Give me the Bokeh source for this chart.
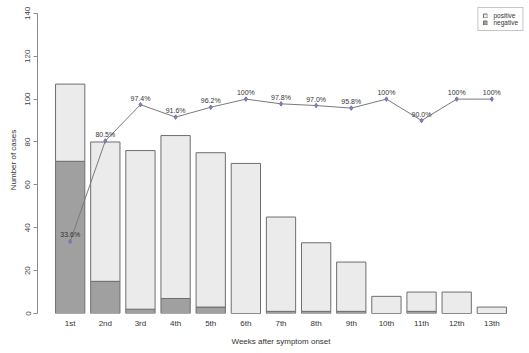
import math
from bokeh.plotting import figure
from bokeh.models import (ColumnDataSource, FactorRange, Range1d, FixedTicker,
                          Legend, LegendItem)
from bokeh.core.properties import value
from bokeh.embed import file_html
from bokeh.resources import INLINE

# ---- data ----
weeks = ["1st", "2nd", "3rd", "4th", "5th", "6th", "7th", "8th", "9th",
         "10th", "11th", "12th", "13th"]
totals = [107, 80, 76, 83, 75, 70, 45, 33, 24, 8, 10, 10, 3]
negatives = [71, 15, 2, 7, 3, 0, 1, 1, 1, 0, 1, 0, 0]
percent = [33.6, 80.5, 97.4, 91.6, 96.2, 100, 97.8, 97.0, 95.8, 100, 90.0, 100, 100]
percent_labels = ["33.6%", "80.5%", "97.4%", "91.6%", "96.2%", "100%", "97.8%",
                  "97.0%", "95.8%", "100%", "90.0%", "100%", "100%"]
y_ticks = [0, 20, 40, 60, 80, 100, 120, 140]

FONT = "Liberation Sans"

src = ColumnDataSource(dict(
    week=weeks, total=totals, neg=negatives,
    zero=[0] * len(weeks), pct=percent, lab=percent_labels,
))

p = figure(width=529, height=353, output_backend="svg", toolbar_location=None,
           x_range=FactorRange(factors=weeks, range_padding=0.43,
                               range_padding_units="absolute"),
           y_range=Range1d(0, 143.2),
           min_border_left=37, min_border_right=5, min_border_top=6,
           min_border_bottom=40)
p.outline_line_color = None
p.grid.grid_line_color = None
p.background_fill_color = "white"
p.border_fill_color = "white"

bar_w = 1 / 1.2
r_neg = p.vbar(x="week", bottom="zero", top="neg", width=bar_w, source=src,
               fill_color="#a0a0a0", line_color="#6e6e6e", line_width=1)
r_pos = p.vbar(x="week", bottom="neg", top="total", width=bar_w, source=src,
               fill_color="#ebebeb", line_color="#6e6e6e", line_width=1)

p.line(x="week", y="pct", source=src, line_color="#7a7a7a", line_width=1)
p.scatter(x="week", y="pct", source=src, marker="diamond", size=4.5,
          fill_color="#8080c0", line_color="#7070b0")
p.text(x="week", y="pct", text="lab", source=src, text_align="center",
       text_baseline="bottom", y_offset=-3, text_font=value(FONT),
       text_font_size="7px", text_color="#333333")

# y axis
ya = p.yaxis[0]
ya.ticker = FixedTicker(ticks=y_ticks)
ya.bounds = (0, 140)
ya.major_label_orientation = "vertical"
ya.axis_line_color = "#8c8c8c"
ya.major_tick_line_color = "#8c8c8c"
ya.major_tick_out = 4
ya.major_tick_in = 0
ya.minor_tick_line_color = None
ya.major_label_standoff = 3
ya.major_label_text_font = FONT
ya.major_label_text_font_size = "8px"
ya.major_label_text_color = "#444444"
ya.axis_label = "Number of cases"
ya.axis_label_text_font = FONT
ya.axis_label_text_font_size = "8px"
ya.axis_label_text_font_style = "normal"
ya.axis_label_text_color = "#333333"
ya.axis_label_standoff = 5

# x axis
xa = p.xaxis[0]
xa.axis_line_color = None
xa.major_tick_line_color = None
xa.minor_tick_line_color = None
xa.major_tick_out = 0
xa.major_label_standoff = 5
xa.major_label_text_font = FONT
xa.major_label_text_font_size = "8px"
xa.major_label_text_color = "#333333"
xa.axis_label = "Weeks after symptom onset"
xa.axis_label_text_font = FONT
xa.axis_label_text_font_size = "8px"
xa.axis_label_text_font_style = "normal"
xa.axis_label_text_color = "#333333"
xa.axis_label_standoff = 6

legend = Legend(items=[LegendItem(label="positive", renderers=[r_pos]),
                       LegendItem(label="negative", renderers=[r_neg])],
                location="top_right", margin=1, padding=4, spacing=0,
                glyph_width=5, glyph_height=5, label_height=7,
                label_standoff=6, label_text_font=FONT,
                label_text_font_size="6.5px", label_text_color="#333333",
                border_line_color="#8c8c8c", background_fill_alpha=1)
p.add_layout(legend)

open("out.html", "w").write(file_html(p, INLINE))
